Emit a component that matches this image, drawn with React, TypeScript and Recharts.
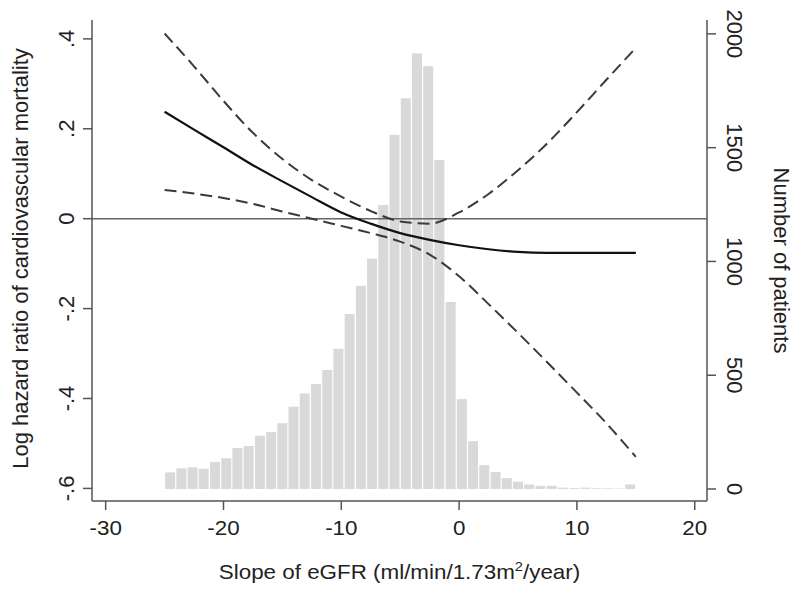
import React from "react";
import { Bar, ComposedChart, Line, ReferenceLine, XAxis, YAxis } from "recharts";

// histogram bins (centre of each bin, eGFR slope) and patient counts
const binCenters = [
  -24.52, -23.57, -22.62, -21.67, -20.71, -19.76, -18.81, -17.86, -16.9, -15.95, -15.0, -14.05, -13.1, -12.14,
  -11.19, -10.24, -9.29, -8.33, -7.38, -6.43, -5.48, -4.52, -3.57, -2.62, -1.67, -0.71, 0.24, 1.19, 2.14, 3.1,
  4.05, 5.0, 5.95, 6.9, 7.86, 8.81, 9.76, 10.71, 11.67, 12.62, 13.57, 14.52,
];
const patients = [
  73, 91, 95, 89, 119, 135, 180, 189, 234, 250, 289, 362, 420, 461, 523, 616, 769, 893, 1012, 1248, 1557, 1717,
  1914, 1858, 1446, 822, 395, 210, 105, 75, 48, 32, 20, 14, 14, 6, 4, 6, 3, 3, 2, 20,
];

// spline estimate of log hazard ratio with 95% CI
const curveX = [-25, -22.5, -20, -17.5, -15, -12.5, -10, -7.5, -5, -2.5, 0, 2.5, 5, 7.5, 10, 12.5, 15];
const logHR = [0.238, 0.198, 0.159, 0.119, 0.083, 0.048, 0.014, -0.011, -0.032, -0.047, -0.059, -0.068, -0.074, -0.076, -0.076, -0.076, -0.076];
const upperCI = [0.412, 0.339, 0.262, 0.191, 0.133, 0.086, 0.049, 0.017, -0.006, -0.011, 0.014, 0.055, 0.108, 0.168, 0.237, 0.309, 0.38];
const lowerCI = [0.064, 0.056, 0.046, 0.033, 0.016, 0.0, -0.016, -0.032, -0.051, -0.08, -0.128, -0.19, -0.254, -0.32, -0.387, -0.455, -0.53];

const xTicks = [-30, -20, -10, 0, 10, 20];
const leftTicks = [-0.6, -0.4, -0.2, 0, 0.2, 0.4];
const rightTicks = [0, 500, 1000, 1500, 2000];

const histData = binCenters.map((x, i) => ({ x, count: patients[i] }));
const curveData = curveX.map((x, i) => ({ x, est: logHR[i], hi: upperCI[i], lo: lowerCI[i] }));

const font = "'Liberation Sans', Arial, Helvetica, sans-serif";
const textColor = "#222";
const axisColor = "#555";
const FS = 20; // horizontal text
const SX = 1.12;
const VFS = 22; // vertical text
const VSX = 1.03;

const fmtLeft = (v: number) => {
  if (v === 0) return "0";
  const s = Math.abs(v).toFixed(1).replace(/^0/, "");
  return v < 0 ? "-" + s : s;
};

const LeftTick = ({ x, y, payload }: any) => (
  <text transform={`translate(${x - 7},${y}) scale(${VSX},1) rotate(-90)`} textAnchor="middle" dy="0.35em" fontSize={VFS} fontFamily={font} fill={textColor}>
    {fmtLeft(payload.value)}
  </text>
);

const RightTick = ({ x, y, payload }: any) => (
  <text transform={`translate(${x + 8},${y}) scale(${VSX},1) rotate(90)`} textAnchor="middle" dy="0.35em" fontSize={VFS} fontFamily={font} fill={textColor}>
    {payload.value}
  </text>
);

const BottomTick = ({ x, y, payload }: any) => (
  <text transform={`translate(${x},${y}) scale(${SX},1)`} textAnchor="middle" dy="0.71em" fontSize={FS} fontFamily={font} fill={textColor}>
    {payload.value}
  </text>
);

const XTitle = ({ viewBox }: any) => (
  <text transform={`translate(${viewBox.x + viewBox.width / 2},${viewBox.y + 78}) scale(${SX},1)`} textAnchor="middle" fontSize={FS} fontFamily={font} fill={textColor}>
    Slope of eGFR (ml/min/1.73m
    <tspan fontSize={13} dy={-8}>2</tspan>
    <tspan fontSize={FS} dy={8}>/year)</tspan>
  </text>
);

const LeftTitle = ({ viewBox }: any) => (
  <text transform={`translate(${viewBox.x + 20},${viewBox.y + viewBox.height / 2 - 2}) scale(${VSX},1) rotate(-90)`} textAnchor="middle" dy="0.35em" fontSize={VFS} fontFamily={font} fill={textColor}>
    Log hazard ratio of cardiovascular mortality
  </text>
);

const RightTitle = ({ viewBox }: any) => (
  <text transform={`translate(${viewBox.x + 75},${viewBox.y + viewBox.height / 2}) scale(${VSX},1) rotate(90)`} textAnchor="middle" dy="0.35em" fontSize={VFS} fontFamily={font} fill={textColor}>
    Number of patients
  </text>
);

// each histogram bar drawn 10px wide round the bin centre the scale gives
const HistBar = (p: any) => {
  if (p.height == null || !isFinite(p.height)) return null;
  const cx = p.x + p.width / 2;
  return <rect x={cx - 5} y={p.y} width={10} height={p.height} fill="#d9d9d9" />;
};

export default function App() {
  return (
    <div style={{ position: "absolute", left: 0, top: 0, width: 800, height: 594, background: "#fff" }}>
      <ComposedChart width={800} height={594} data={histData} margin={{ top: 20, right: 0, bottom: 0, left: 0 }}>
        <XAxis
          dataKey="x"
          type="number"
          domain={[-31.16, 21.04]}
          ticks={xTicks}
          allowDataOverflow
          height={93}
          stroke={axisColor}
          strokeWidth={1.5}
          tickSize={9}
          tickMargin={11}
          tick={<BottomTick />}
          label={<XTitle />}
        />
        <XAxis xAxisId="top" dataKey="x" type="number" domain={[-31.16, 21.04]} orientation="top" height={0} tick={false} tickLine={false} stroke={axisColor} strokeWidth={1.5} />
        <YAxis
          yAxisId="left"
          type="number"
          domain={[-0.628, 0.442]}
          ticks={leftTicks}
          allowDataOverflow
          width={92}
          stroke={axisColor}
          strokeWidth={1.5}
          tickSize={9}
          tickMargin={10}
          tick={<LeftTick />}
          label={<LeftTitle />}
        />
        <YAxis
          yAxisId="right"
          orientation="right"
          type="number"
          domain={[-52.7, 2061]}
          ticks={rightTicks}
          allowDataOverflow
          width={93}
          stroke={axisColor}
          strokeWidth={1.5}
          tickSize={9}
          tickMargin={11}
          tick={<RightTick />}
          label={<RightTitle />}
        />
        <Bar yAxisId="right" dataKey="count" fill="#d9d9d9" barSize={10} shape={<HistBar />} isAnimationActive={false} />
        <ReferenceLine yAxisId="left" y={0} stroke="#666" strokeWidth={1.5} />
        <Line data={curveData} yAxisId="left" dataKey="hi" type="monotone" stroke="#3a3a3a" strokeWidth={2} strokeDasharray="12 6" dot={false} isAnimationActive={false} />
        <Line data={curveData} yAxisId="left" dataKey="lo" type="monotone" stroke="#3a3a3a" strokeWidth={2} strokeDasharray="12 6" dot={false} isAnimationActive={false} />
        <Line data={curveData} yAxisId="left" dataKey="est" type="monotone" stroke="#111" strokeWidth={2.2} dot={false} isAnimationActive={false} />
      </ComposedChart>
    </div>
  );
}
